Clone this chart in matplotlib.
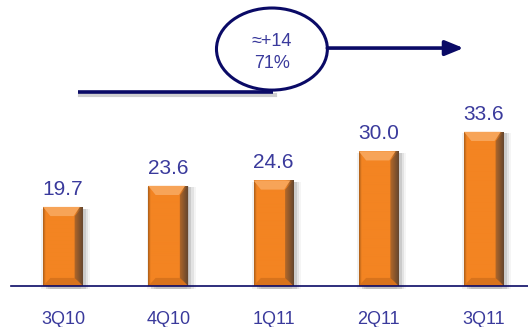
import numpy as np
import matplotlib
matplotlib.use("Agg")
import matplotlib.pyplot as plt
from matplotlib.patches import Ellipse

plt.rcParams['font.family'] = ['Liberation Sans', 'DejaVu Sans']

quarters = ["3Q10", "4Q10", "1Q11", "2Q11", "3Q11"]
values = [19.7, 23.6, 24.6, 30.0, 33.6]
growth_abs = "\u2248+14"
growth_pct = "71%"

navy = "#0a0a66"
txt = "#3a3a9c"
base = 5.06
width = 0.38

fig = plt.figure(figsize=(5.28, 3.27), dpi=100)
ax = fig.add_axes([0, 0, 1, 1])
ax.set_xlim(-0.599, 4.418)
ax.set_ylim(-2.53, 58.0)
ax.axis("off")

x = np.arange(len(values))
heights = np.array(values) - base

# soft shadow round each bar, mostly to the right
for dx, a in [(0.03, 0.16), (0.05, 0.11), (0.07, 0.06), (-0.015, 0.08)]:
    ax.bar(x + dx, heights + 0.3, width, bottom=base - 0.6, color="#555555",
           alpha=a, linewidth=0, zorder=1)

bars = ax.bar(x, heights, width, bottom=base, color="#f5821f", linewidth=0, zorder=2)


def bar_image(nx, ny):
    img = np.zeros((ny, nx, 3))
    img[:] = np.array([243, 132, 34]) / 255
    u = np.linspace(0, 1, nx)
    # left edge darker
    left = np.clip(1 - u / 0.06, 0, 1)[None, :, None]
    img = img * (1 - 0.25 * left)
    # right edge dark band
    right = np.clip((u - 0.8) / 0.2, 0, 1)[None, :, None]
    dark = np.array([100, 70, 45]) / 255
    img = img * (1 - right) + dark * right
    return img


for b in bars:
    x0, y0 = b.get_x(), b.get_y()
    x1, y1 = x0 + b.get_width(), y0 + b.get_height()
    img = bar_image(40, 60)
    im = ax.imshow(img, extent=(x0, x1, y0, y1), aspect="auto",
                   interpolation="bilinear", zorder=3)
    im.set_clip_path(b)
    # top bevel highlight
    tb = 1.7
    ax.fill([x0, x1 - 0.03, x1 - 0.09, x0 + 0.07], [y1, y1, y1 - tb, y1 - tb],
            color="#f7a458", lw=0, zorder=4)
    # bottom bevel
    ax.fill([x0, x1, x1 - 0.07, x0 + 0.07], [y0, y0, y0 + 1.5, y0 + 1.5],
            color="#d8731c", lw=0, zorder=4)
    ax.fill([x1 - 0.08, x1, x1, x1 - 0.08], [y0 + 1.5, y0, y1, y1 - tb],
            color="#6e4a30", lw=0, alpha=0.5, zorder=4)
    ax.text(b.get_x() + b.get_width() / 2, y1 + 1.5, f"{b.get_height() + base:.1f}",
            ha="center", va="bottom", fontsize=15, color=txt, zorder=5)

ax.axhline(base, xmin=0.021, xmax=1, color=navy, lw=1.2, zorder=6)

for xi, q in zip(x, quarters):
    ax.text(xi, base - 6.2, q, ha="center", va="center", fontsize=13, color=txt)

# growth annotation
ax.plot([0.148 + 0.004, 0.517 + 0.004], [0.719 - 0.01, 0.719 - 0.01],
        transform=fig.transFigure, color="#bbbbbb", lw=3, alpha=0.7, zorder=6)
ax.plot([0.148, 0.517], [0.719, 0.719], transform=fig.transFigure,
        color=navy, lw=2.6, solid_capstyle="butt", zorder=7)
ell = Ellipse((0.515, 0.850), 0.210, 0.251, transform=fig.transFigure,
              facecolor="white", edgecolor=navy, lw=2.2, zorder=8)
ax.add_patch(ell)
ax.annotate("", xy=(0.878, 0.853), xytext=(0.620, 0.853),
            xycoords=fig.transFigure, textcoords=fig.transFigure,
            arrowprops=dict(arrowstyle="-|>,head_length=1.1,head_width=0.45",
                            color=navy, lw=2.6, shrinkA=0, shrinkB=0), zorder=8)
fig.text(0.515, 1 - 42 / 327, growth_abs, ha="center", va="center",
         fontsize=13, color=txt, zorder=9)
fig.text(0.515, 1 - 64 / 327, growth_pct, ha="center", va="center",
         fontsize=13, color=txt, zorder=9)

fig.savefig("out.png", dpi=100)
